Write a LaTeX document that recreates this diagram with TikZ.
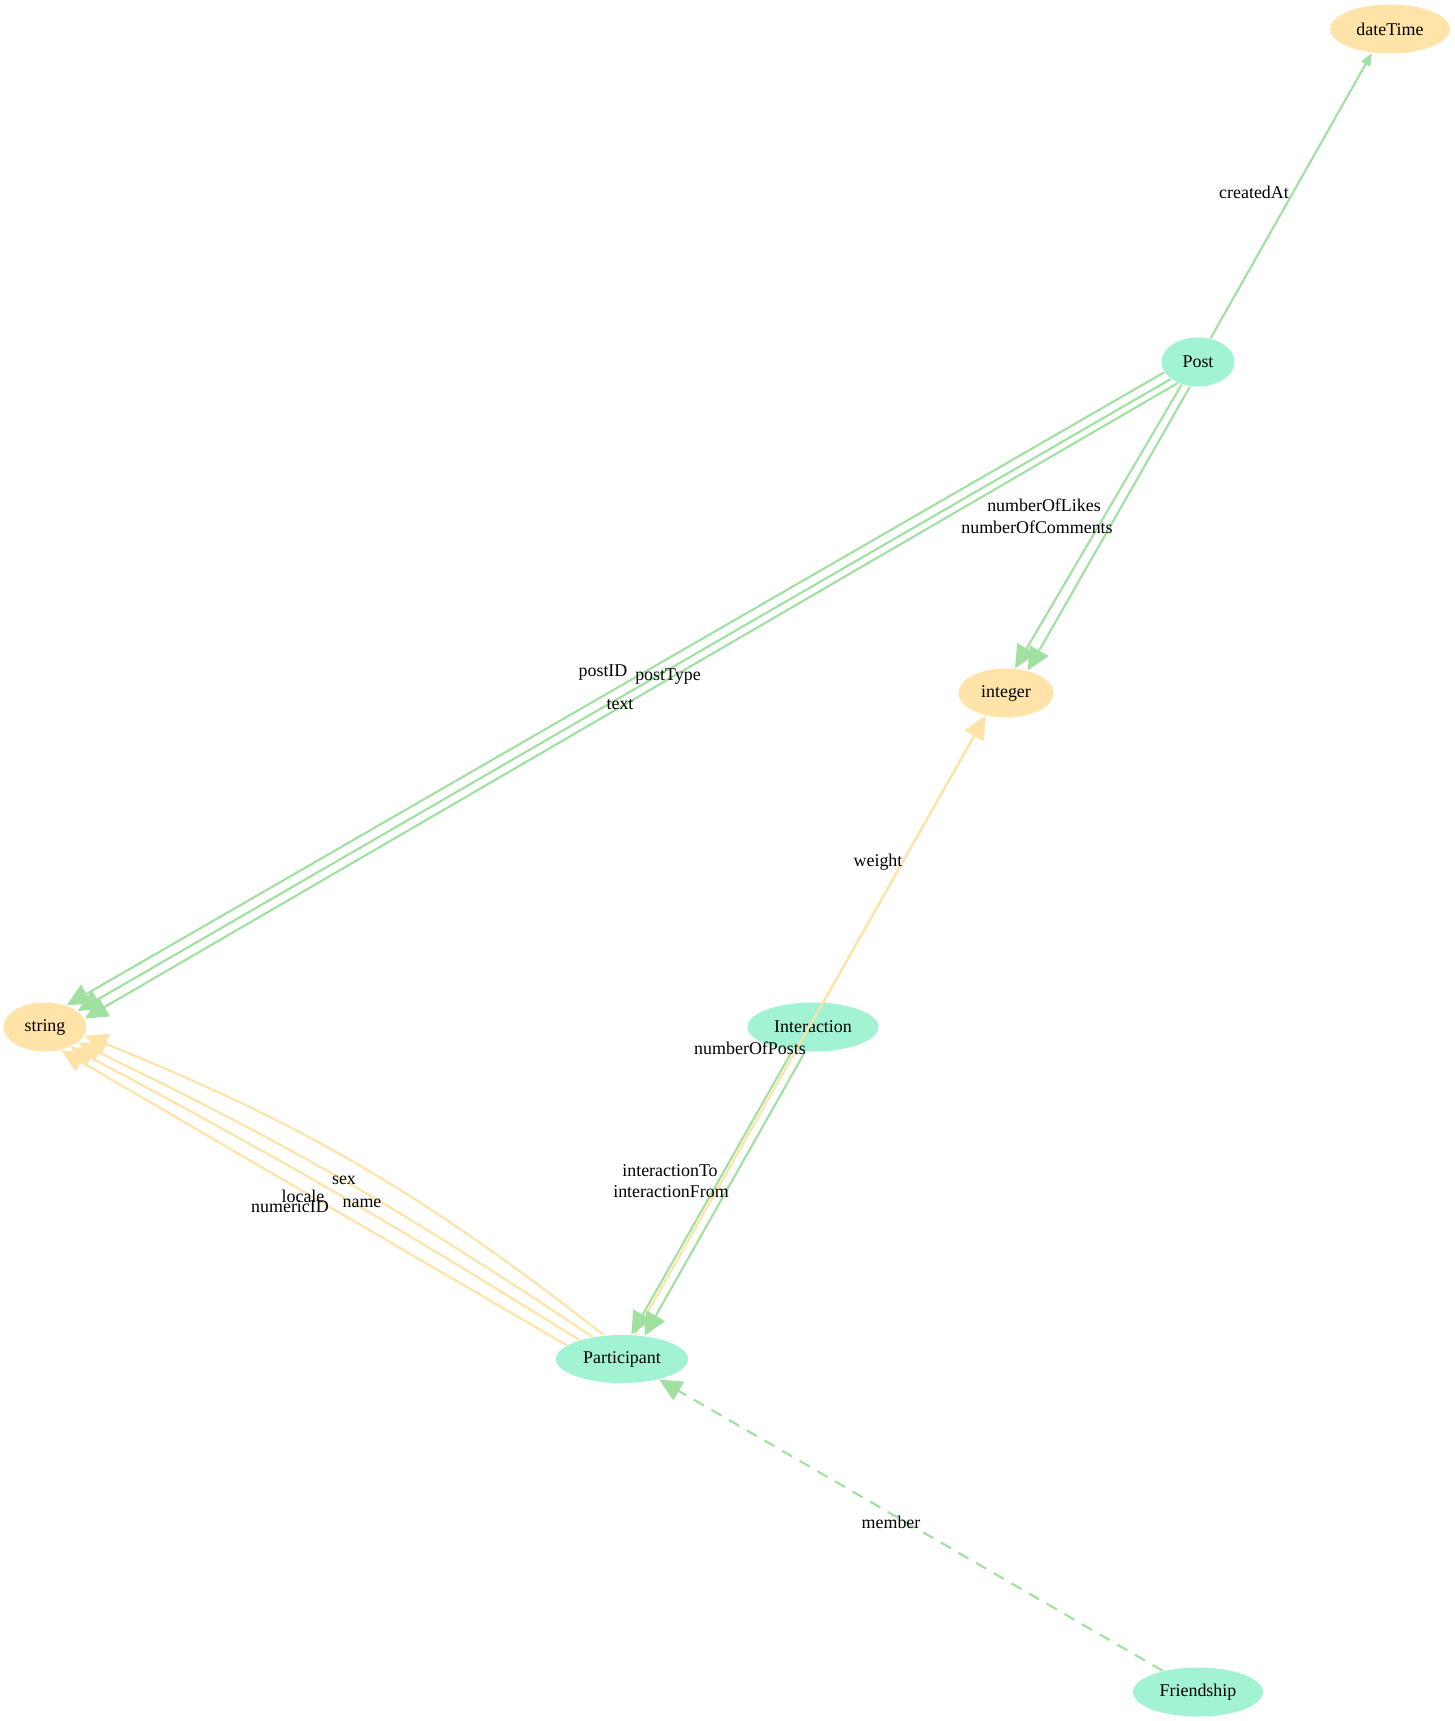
\documentclass[tikz,border=0pt]{standalone}
\usepackage{fontspec}
\setmainfont{Liberation Serif}
\usetikzlibrary{arrows.meta,shapes.geometric}

\definecolor{entgreen}{RGB}{162,242,212}
\definecolor{typeorange}{RGB}{255,227,168}
\definecolor{relgreen}{RGB}{160,224,160}
\definecolor{attryellow}{RGB}{255,226,166}

\begin{document}
\begin{tikzpicture}[
  ent/.style={ellipse, fill=entgreen, inner sep=0pt, minimum height=4.9mm, font=\fontsize{5.1}{6}\selectfont},
  dtype/.style={ellipse, fill=typeorange, inner sep=0pt, minimum height=4.9mm, font=\fontsize{5.1}{6}\selectfont},
  lbl/.style={inner sep=0pt, font=\fontsize{5.1}{6}\selectfont},
  rel/.style={draw=relgreen, line width=0.6pt, -{Triangle[length=6.5pt,width=6pt]}},
  attr/.style={draw=attryellow, line width=0.6pt, -{Triangle[length=6.5pt,width=6pt]}}
]
  \useasboundingbox (0,0) rectangle (14.54,-17.21);

  % entities and types
  \node[dtype, minimum width=12mm] (dateTime) at (13.90,-0.29) {dateTime};
  \node[ent, minimum width=7.3mm] (post) at (11.98,-3.62) {Post};
  \node[dtype, minimum width=9.5mm] (integer) at (10.06,-6.93) {integer};
  \node[dtype, minimum width=8.3mm] (string) at (0.45,-10.27) {string};
  \node[ent, minimum width=13.1mm] (interaction) at (8.13,-10.27) {Interaction};
  \node[ent, minimum width=13.2mm, minimum height=4.8mm] (participant) at (6.22,-13.59) {Participant};
  \node[ent, minimum width=13mm] (friendship) at (11.98,-16.92) {Friendship};

  % Post
  \draw[rel, -{Triangle[length=3.6pt,width=2.8pt]}] (post.62) -- (dateTime.233);
  \draw[rel] (post.197) -- (string.45);
  \draw[rel] (post.212) -- (string.26);
  \draw[rel] (post.226) -- (string.12);
  \draw[rel] (post.234) -- (integer.70);
  \draw[rel] (post.252) -- (integer.46);

  % Interaction
  \draw[attr] (interaction.67) -- (integer.228);
  \draw[attr] (participant.62) -- (integer.228);
  \draw[rel] (interaction.229) -- (participant.69);
  \draw[rel] (interaction.252) -- (participant.46);

  % Participant
  \draw[attr] (participant.127) to[bend right=8] (string.-12);
  \draw[attr] (participant.143) to[bend right=4] (string.-25);
  \draw[attr] (participant.156) to[bend right=2] (string.-38);
  \draw[attr] (participant.166) -- (string.-55);

  % Friendship
  \draw[rel, dash pattern=on 3.3pt off 2.5pt] (friendship.149) -- (participant.-29);

  % edge labels
  \node[lbl] (lcreated) at (12.54,-1.92) {createdAt};
  \node[lbl] (llikes) at (10.44,-5.05) {numberOfLikes};
  \node[lbl] (lcomments) at (10.37,-5.27) {numberOfComments};
  \node[lbl] (lpostid) at (6.03,-6.73) {postID};
  \node[lbl] (lposttype) at (6.68,-6.77) {postType};
  \node[lbl] (ltext) at (6.20,-7.05) {text};
  \node[lbl] (lweight) at (8.78,-8.62) {weight};
  \node[lbl] (lposts) at (7.50,-10.48) {numberOfPosts};
  \node[lbl] (lto) at (6.70,-11.71) {interactionTo};
  \node[lbl] (lfrom) at (6.71,-11.92) {interactionFrom};
  \node[lbl] (lsex) at (3.44,-11.80) {sex};
  \node[lbl] (llocale) at (3.03,-11.96) {locale};
  \node[lbl] (lnumeric) at (2.90,-12.07) {numericID};
  \node[lbl] (lname) at (3.62,-12.03) {name};
  \node[lbl] (lmember) at (8.91,-15.22) {member};
\end{tikzpicture}
\end{document}
